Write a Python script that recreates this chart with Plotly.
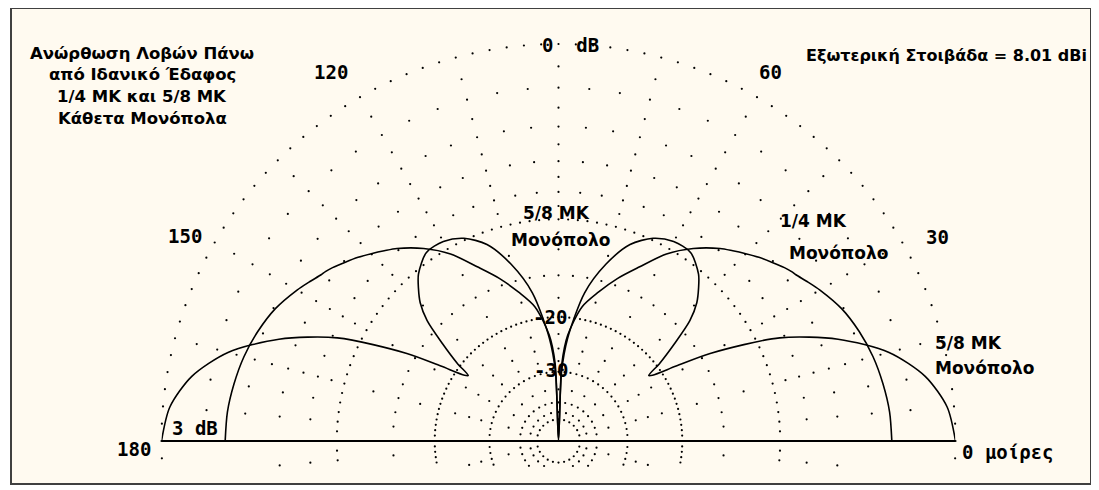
import math
import plotly.graph_objects as go

# ---------------- data ----------------
EL_DEG = [0, 5, 10, 15, 20, 25, 30, 32.5, 35, 36, 37.5, 40, 42.5, 45, 47.5, 50, 55, 60, 65, 70, 75, 80, 85, 87.5, 90,
          92.5, 95, 100, 105, 110, 115, 120, 125, 130, 132.5, 135, 137.5, 140, 142.5, 144, 145, 147.5, 150,
          155, 160, 165, 170, 175, 180]

QUARTER_WAVE_DB = [-3.0, -3.05, -3.2, -3.4, -3.7, -4.1, -4.7, -5.05, -5.4, -5.5, -5.7, -6.1, -6.5,
                   -6.95, -7.4, -7.85, -9.0, -10.45, -12.45, -14.25, -16.25, -18.35, -22.6, -28.0, -99.0,
                   -28.0, -22.6, -18.35, -16.25, -14.25, -12.45, -10.45, -9.0, -7.85, -7.4, -6.95, -6.5, -6.1,
                   -5.7, -5.5, -5.4, -5.05, -4.7, -4.1, -3.7, -3.4, -3.2, -3.05, -3.0]

FIVE_EIGHTH_WAVE_DB = [0.0, -0.3, -1.1, -2.55, -4.95, -8.35, -14.05, -17.95, -21.3, -21.8, -19.5, -16.55, -13.75,
                       -12.15, -11.15, -10.3, -9.35, -9.35, -9.85, -11.0, -13.3, -16.65, -23.25, -30.0, -99.0,
                       -30.0, -23.25, -16.65, -13.3, -11.0, -9.85, -9.35, -9.35, -10.3, -11.15, -12.15, -13.75,
                       -16.55, -19.5, -21.8, -21.3, -17.95, -14.05, -8.35, -4.95, -2.55, -1.1, -0.3, 0.0]

# dotted ARRL grid: rings (dB) with the angular step of their dots (deg)
MAJOR_RING_DB = [0, -10, -20, -30, -40, -50]
MAJOR_RING_STEP = [2.5, 2.5, 2.5, 5, 10, 15]
MINOR_RING_DB = [-2, -4, -6, -8, -15]
MINOR_RING_STEP = 5
SPOKE_TICK_DB = [-1, -3, -5, -7, -9, -12.5, -17.5, -22.5, -25, -27.5, -35, -45]
SPOKE_STEP = 15

BASELINE_THETA = [0, 180]
BASELINE_DB = [0.0, 0.0]

TITLE_LINES = ["Ανώρθωση Λοβών Πάνω", "από Ιδανικό Έδαφος", "1/4 ΜΚ και 5/8 ΜΚ", "Κάθετα Μονόπολα"]
OUTER_RING_TEXT = "Εξωτερική Στοιβάδα = 8.01 dBi"


def arrl(db):
    """ARRL log radial scale: radius drops to 0.89 for every 2 dB."""
    return [0.89 ** (-d / 2.0) for d in db]


W, H = 1099, 840          # only the top 490 px are in the window
OFF = 8                   # page body margin
BG = "#FFFAF0"
INK = "#000000"
R_PX = 397.0
CX, CY = 558.5, 441
BELOW_GROUND_PX = 25.5    # the dotted grid continues this far under the ground line


def px(x):
    return (x - OFF) / W


def py(y):
    return 1 - (y - OFF) / H


dot_t, dot_r = [], []


def add_ring(db, step):
    rr = arrl([db])[0]
    n = int(round(360 / step))
    for k in range(n):
        a = k * step
        if rr * math.sin(math.radians(a)) * R_PX >= -BELOW_GROUND_PX:
            dot_t.append(a)
            dot_r.append(rr)


for db, step in zip(MAJOR_RING_DB, MAJOR_RING_STEP):
    add_ring(db, step)
for db in MINOR_RING_DB:
    add_ring(db, MINOR_RING_STEP)
for db in SPOKE_TICK_DB:
    add_ring(db, SPOKE_STEP)

fig = go.Figure()
fig.add_trace(go.Scatterpolar(theta=dot_t, r=dot_r, mode="markers",
                              marker=dict(color=INK, size=2.2, line=dict(width=0)),
                              hoverinfo="skip", showlegend=False))
fig.add_trace(go.Scatterpolar(theta=BASELINE_THETA, r=arrl(BASELINE_DB), mode="lines",
                              line=dict(color=INK, width=2), hoverinfo="skip", showlegend=False))
fig.add_trace(go.Scatterpolar(theta=EL_DEG, r=arrl(QUARTER_WAVE_DB), mode="lines", name="1/4 ΜΚ",
                              line=dict(color=INK, width=1.6, shape="spline", smoothing=0.8),
                              showlegend=False))
fig.add_trace(go.Scatterpolar(theta=EL_DEG, r=arrl(FIVE_EIGHTH_WAVE_DB), mode="lines", name="5/8 ΜΚ",
                              line=dict(color=INK, width=1.6, shape="spline", smoothing=0.8),
                              showlegend=False))

fig.update_layout(
    width=W, height=H,
    margin=dict(l=0, r=0, t=0, b=0),
    paper_bgcolor="#FFFFFF",
    plot_bgcolor=BG,
    showlegend=False,
    polar=dict(
        domain=dict(x=[px(CX - R_PX), px(CX + R_PX)], y=[py(CY + R_PX), py(CY - R_PX)]),
        bgcolor="rgba(0,0,0,0)",
        radialaxis=dict(range=[0, 1], showticklabels=False, ticks="", showline=False, showgrid=False),
        angularaxis=dict(direction="counterclockwise", rotation=0, showticklabels=False, ticks="",
                         showline=False, showgrid=False),
    ),
)

sans = "DejaVu Sans"
mono = "DejaVu Sans Mono"
ann = []
for i, t in enumerate(TITLE_LINES):
    ann.append(dict(text=t, x=px(142), y=py(53 + 22 * i), font=dict(family=sans, size=16.5, color=INK)))
ann.append(dict(text=OUTER_RING_TEXT, x=px(946), y=py(55), font=dict(family=sans, size=16, color=INK)))

curve_labels = [("5/8 ΜΚ", 556, 213), ("Μονόπολο", 560, 240), ("1/4 ΜΚ", 813, 221), ("Μονόπολο", 838, 253),
                ("5/8 ΜΚ", 968, 343), ("Μονόπολο", 985, 368)]
for t, x, y in curve_labels:
    ann.append(dict(text=t, x=px(x), y=py(y), font=dict(family=sans, size=17, color=INK)))

mono_labels = [("0&nbsp;&nbsp;dB", 570, 45), ("120", 331, 72), ("60", 770, 72), ("150", 185, 236),
               ("30", 937, 237), ("180", 134, 449), ("0 μοίρες", 1008, 452), ("3 dB", 195, 428),
               ("-20", 550, 317), ("-30", 551, 370)]
for t, x, y in mono_labels:
    ann.append(dict(text=t, x=px(x), y=py(y), font=dict(family=mono, size=19, color=INK)))

for a in ann:
    a["text"] = "<b>" + a["text"] + "</b>"
    a.update(xref="paper", yref="paper", showarrow=False, xanchor="center", yanchor="middle")
fig.update_layout(annotations=ann)

fig.add_shape(type="rect", xref="paper", yref="paper", layer="below",
              x0=px(11), x1=px(1091), y0=py(484), y1=py(8),
              line=dict(color="#404040", width=2), fillcolor=BG)

fig.write_html("out.html")
